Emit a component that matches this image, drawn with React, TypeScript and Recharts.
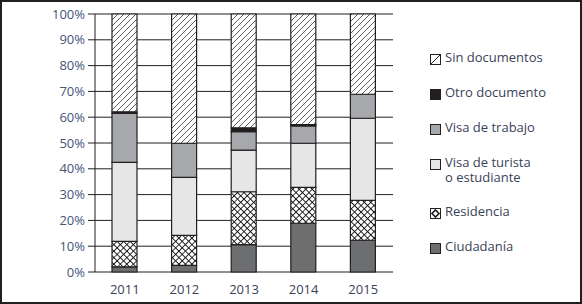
import React from "react";
import { BarChart, Bar, XAxis, YAxis, CartesianGrid } from "recharts";

const years = ["2011", "2012", "2013", "2014", "2015"];
const ciudadania = [2, 2.6, 10.6, 18.9, 12.3];
const residencia = [9.9, 11.6, 20.5, 13.9, 15.5];
const turista = [30.6, 22.5, 16.1, 17.1, 31.8];
const trabajo = [19, 13.2, 7.2, 6.7, 9.3];
const otro = [0.6, 0, 1.5, 0.5, 0];
const sinDocs = [37.9, 50.1, 44.1, 42.9, 31.1];
const yTicks = [0, 10, 20, 30, 40, 50, 60, 70, 80, 90, 100];
const boundaryTicks = [0, 1, 2, 3, 4, 5];

const series = [
  { key: "ciudadania", name: "Ciudadanía", values: ciudadania, fill: "#6d6e70" },
  { key: "residencia", name: "Residencia", values: residencia, fill: "url(#cross)" },
  { key: "turista", name: "Visa de turista\no estudiante", values: turista, fill: "#e6e6e6" },
  { key: "trabajo", name: "Visa de trabajo", values: trabajo, fill: "#a7a8ab" },
  { key: "otro", name: "Otro documento", values: otro, fill: "#231f20" },
  { key: "sin", name: "Sin documentos", values: sinDocs, fill: "url(#hatch)" },
];

const data = years.map((y, i) => {
  const row: Record<string, any> = { year: y };
  series.forEach((s) => (row[s.key] = s.values[i]));
  return row;
});

const FONT = "'Open Sans', sans-serif";
const TEXT = "#3a4257";
const LINE = "#231f20";

const LegendIcon = ({ k, fill }: { k: string; fill: string }) => (
  <svg width={11} height={11} style={{ display: "block" }}>
    <rect x={0.5} y={0.5} width={10} height={10} fill={k === "sin" || k === "residencia" ? "#fff" : fill} stroke={LINE} strokeWidth={1} />
    {k === "sin" && <line x1={1} y1={10} x2={10} y2={1} stroke={LINE} strokeWidth={1} />}
    {k === "residencia" && (
      <polygon points="5.5,2 9,5.5 5.5,9 2,5.5" fill="#fff" stroke={LINE} strokeWidth={1.6} />
    )}
  </svg>
);

const LegendBox = () => {
  const items = [...series].reverse();
  return (
    <div
      style={{
        position: "absolute",
        left: 430,
        top: 50,
        width: 150,
        fontFamily: FONT,
        fontSize: 13,
        color: TEXT,
      }}
    >
      {items.map((s) => {
        const lines = s.name.split("\n");
        return (
          <div key={s.key} style={{ display: "flex", alignItems: "flex-start", height: lines.length > 1 ? 49 : 35 }}>
            <div style={{ marginTop: 4, marginRight: 4 }}>
              <LegendIcon k={s.key} fill={s.fill} />
            </div>
            <div style={{ lineHeight: "15px" }}>
              {lines.map((l, i) => (
                <div key={i}>{l}</div>
              ))}
            </div>
          </div>
        );
      })}
    </div>
  );
};

export default function App() {
  return (
    <div
      style={{
        position: "fixed",
        left: 0,
        top: 0,
        width: 582,
        height: 304,
        background: "#fff",
      }}
    >
      <BarChart
        width={582}
        height={304}
        data={data}
        margin={{ top: 14, right: 189, left: 0, bottom: 2 }}
        barSize={25}
      >
        <defs>
          <pattern id="hatch" patternUnits="userSpaceOnUse" width={6} height={6}>
            <rect width={6} height={6} fill="#fff" />
            <path d="M0,6 L6,0 M-1,1 L1,-1 M5,7 L7,5" stroke="#333" strokeWidth={0.8} />
          </pattern>
          <pattern
            id="cross"
            patternUnits="userSpaceOnUse"
            width={4.6}
            height={4.6}
            patternTransform="rotate(45)"
          >
            <rect width={4.6} height={4.6} fill="#fff" />
            <path d="M0,0 L4.6,0 M0,0 L0,4.6" stroke="#111" strokeWidth={1.7} />
          </pattern>
        </defs>
        <CartesianGrid horizontal vertical={false} stroke={LINE} strokeOpacity={1} />
        <XAxis
          dataKey="year"
          xAxisId="cat"
          axisLine={false}
          tickLine={false}
          tick={{ fill: TEXT, fontSize: 13, fontFamily: FONT }}
          tickMargin={7}
          height={30}
        />
        <XAxis
          xAxisId="edges"
          type="number"
          domain={[0, 5]}
          ticks={boundaryTicks}
          tick={false}
          axisLine={false}
          tickLine={{ stroke: LINE }}
          tickSize={5}
          height={0}
          allowDataOverflow
        />
        <YAxis
          width={95}
          domain={[0, 100]}
          ticks={yTicks}
          interval={0}
          tickFormatter={(v) => `${v}%`}
          axisLine={{ stroke: LINE }}
          tickLine={{ stroke: LINE }}
          tickSize={7}
          tickMargin={3}
          tick={{ fill: "#45557a", fontSize: 13, fontFamily: FONT }}
        />
        {series.map((s) => (
          <Bar
            key={s.key}
            dataKey={s.key}
            name={s.name}
            xAxisId="cat"
            stackId="a"
            fill={s.fill}
            stroke={LINE}
            strokeWidth={1.2}
            isAnimationActive={false}
          />
        ))}
      </BarChart>
      <LegendBox />
      <div
        style={{
          position: "absolute",
          left: 0,
          top: 0,
          width: 582,
          height: 304,
          border: `2px solid ${LINE}`,
          boxSizing: "border-box",
          pointerEvents: "none",
        }}
      />
    </div>
  );
}
